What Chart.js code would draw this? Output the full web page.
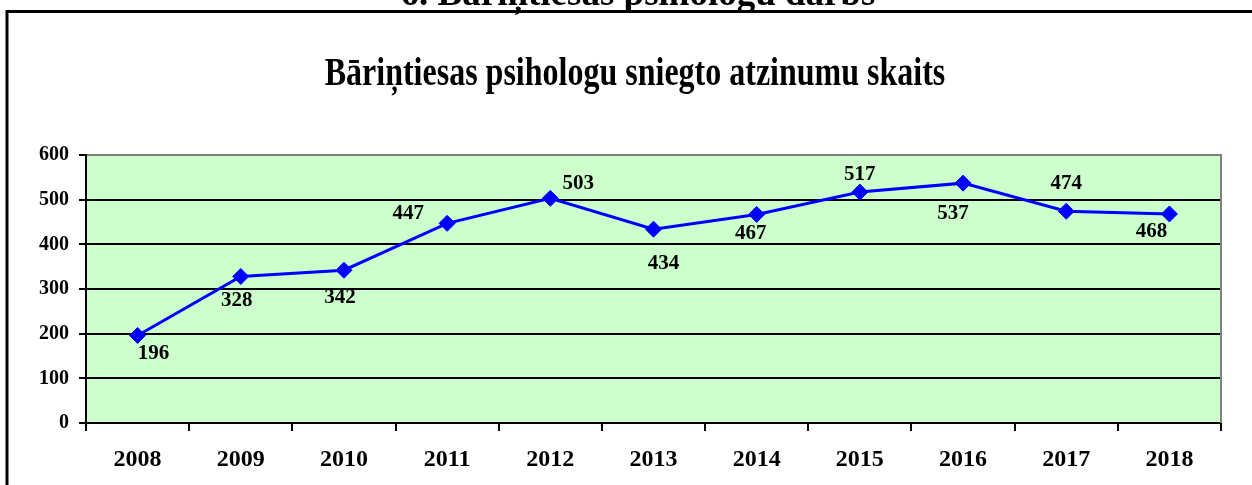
<!DOCTYPE html>
<html><head><meta charset="utf-8">
<script src="https://cdn.jsdelivr.net/npm/chart.js@4/dist/chart.umd.min.js"></script>
<style>html,body{margin:0;padding:0;background:#fff;overflow:hidden}#wrap{position:relative;width:1252px;height:485px}</style>
</head><body><div id="wrap"><canvas id="c" width="1252" height="485"></canvas></div>
<script>
const heading = '6. Bāriņtiesas psihologu darbs';
const chartTitle = 'Bāriņtiesas psihologu sniegto atzinumu skaits';
const years = ['2008','2009','2010','2011','2012','2013','2014','2015','2016','2017','2018'];
const opinions = [196, 328, 342, 447, 503, 434, 467, 517, 537, 474, 468];
const yTicks = [0, 100, 200, 300, 400, 500, 600];

const FONT = "'Liberation Serif','Times New Roman',serif";

const decor = {
  id: 'decor',
  beforeDraw(chart) {
    const {ctx, chartArea: a} = chart;
    ctx.save();
    ctx.fillStyle = '#ffffff';
    ctx.fillRect(0, 0, chart.width, chart.height);
    ctx.fillStyle = '#CCFFCC';
    ctx.fillRect(a.left, a.top, a.right - a.left, a.bottom - a.top);
    ctx.restore();
  },
  afterDraw(chart) {
    const {ctx, chartArea: a} = chart;
    const o = chart.options.plugins.decor;
    ctx.save();
    // right plot border
    ctx.strokeStyle = '#808080';
    ctx.lineWidth = 2;
    ctx.beginPath();
    ctx.moveTo(a.right, a.top - 1);
    ctx.lineTo(a.right, a.bottom);
    ctx.stroke();
    // heading (cut off at top)
    ctx.fillStyle = '#000';
    ctx.textAlign = 'center';
    ctx.textBaseline = 'alphabetic';
    ctx.font = 'bold 37px ' + FONT;
    ctx.fillText(o.heading, o.headX, o.headY);
    // outer box
    ctx.strokeStyle = '#000';
    ctx.lineWidth = 3;
    ctx.beginPath();
    ctx.moveTo(7, chart.height + 5);
    ctx.lineTo(7, 11.5);
    ctx.lineTo(chart.width + 5, 11.5);
    ctx.stroke();
    // title (slightly tall, as in the source)
    ctx.save();
    ctx.translate(o.titleX, o.titleY);
    ctx.scale(1, 1.27);
    ctx.font = 'bold 32px ' + FONT;
    ctx.fillText(o.title, 0, 0);
    ctx.restore();
    ctx.restore();
  }
};

const valueLabels = {
  id: 'valueLabels',
  afterDatasetsDraw(chart) {
    const {ctx} = chart;
    const o = chart.options.plugins.valueLabels;
    const meta = chart.getDatasetMeta(0);
    const vals = chart.data.datasets[0].data;
    ctx.save();
    ctx.fillStyle = '#000';
    ctx.font = 'bold 21px ' + FONT;
    ctx.textAlign = 'center';
    ctx.textBaseline = 'middle';
    meta.data.forEach((pt, i) => {
      const off = o.offsets[i];
      ctx.fillText(String(vals[i]), pt.x + off[0], pt.y + off[1]);
    });
    ctx.restore();
  }
};

new Chart(document.getElementById('c'), {
  type: 'line',
  data: {
    labels: years,
    datasets: [{
      data: opinions,
      borderColor: '#0000FF',
      backgroundColor: '#0000FF',
      borderWidth: 3,
      pointStyle: 'rectRot',
      pointRadius: 8,
      pointBorderWidth: 1,
      pointBorderColor: '#0000FF',
      pointBackgroundColor: '#0000FF',
      tension: 0,
      fill: false
    }]
  },
  options: {
    responsive: false,
    animation: false,
    events: [],
    layout: {padding: {top: 155, right: 31, left: 0, bottom: 0}},
    plugins: {
      legend: {display: false},
      tooltip: {enabled: false},
      title: {display: false},
      decor: {heading: heading, headX: 638, headY: 5, title: chartTitle, titleX: 635, titleY: 85},
      valueLabels: {
        offsets: [[16, 18], [-4, 24], [-4, 27], [-39, -10], [28, -15], [10, 34],
                  [-6, 19], [0, -17], [-10, 30], [0, -28], [-18, 18]]
      }
    },
    scales: {
      x: {
        offset: true,
        grid: {offset: true, drawOnChartArea: false, drawTicks: true, tickLength: 8, tickWidth: 2, tickColor: '#000', lineWidth: 2, color: '#000'},
        border: {display: true, color: '#000', width: 2},
        ticks: {color: '#000', font: {family: FONT, size: 24, weight: 'bold'}, padding: 14, maxRotation: 0, autoSkip: false},
        afterFit(s) { s.height = 62; }
      },
      y: {
        min: 0, max: 600,
        afterBuildTicks(s) { s.ticks = yTicks.map(v => ({value: v})); },
        grid: {
          color: ctx => (ctx.tick && ctx.tick.value === 600) ? '#808080' : '#000',
          tickColor: '#000', lineWidth: 2, tickLength: 7, drawTicks: true
        },
        border: {display: true, color: '#000', width: 2},
        ticks: {color: '#000', font: {family: FONT, size: 20, weight: 'bold'}, padding: 10},
        afterFit(s) { s.width = 86; }
      }
    }
  },
  plugins: [decor, valueLabels]
});
</script>
</body></html>
